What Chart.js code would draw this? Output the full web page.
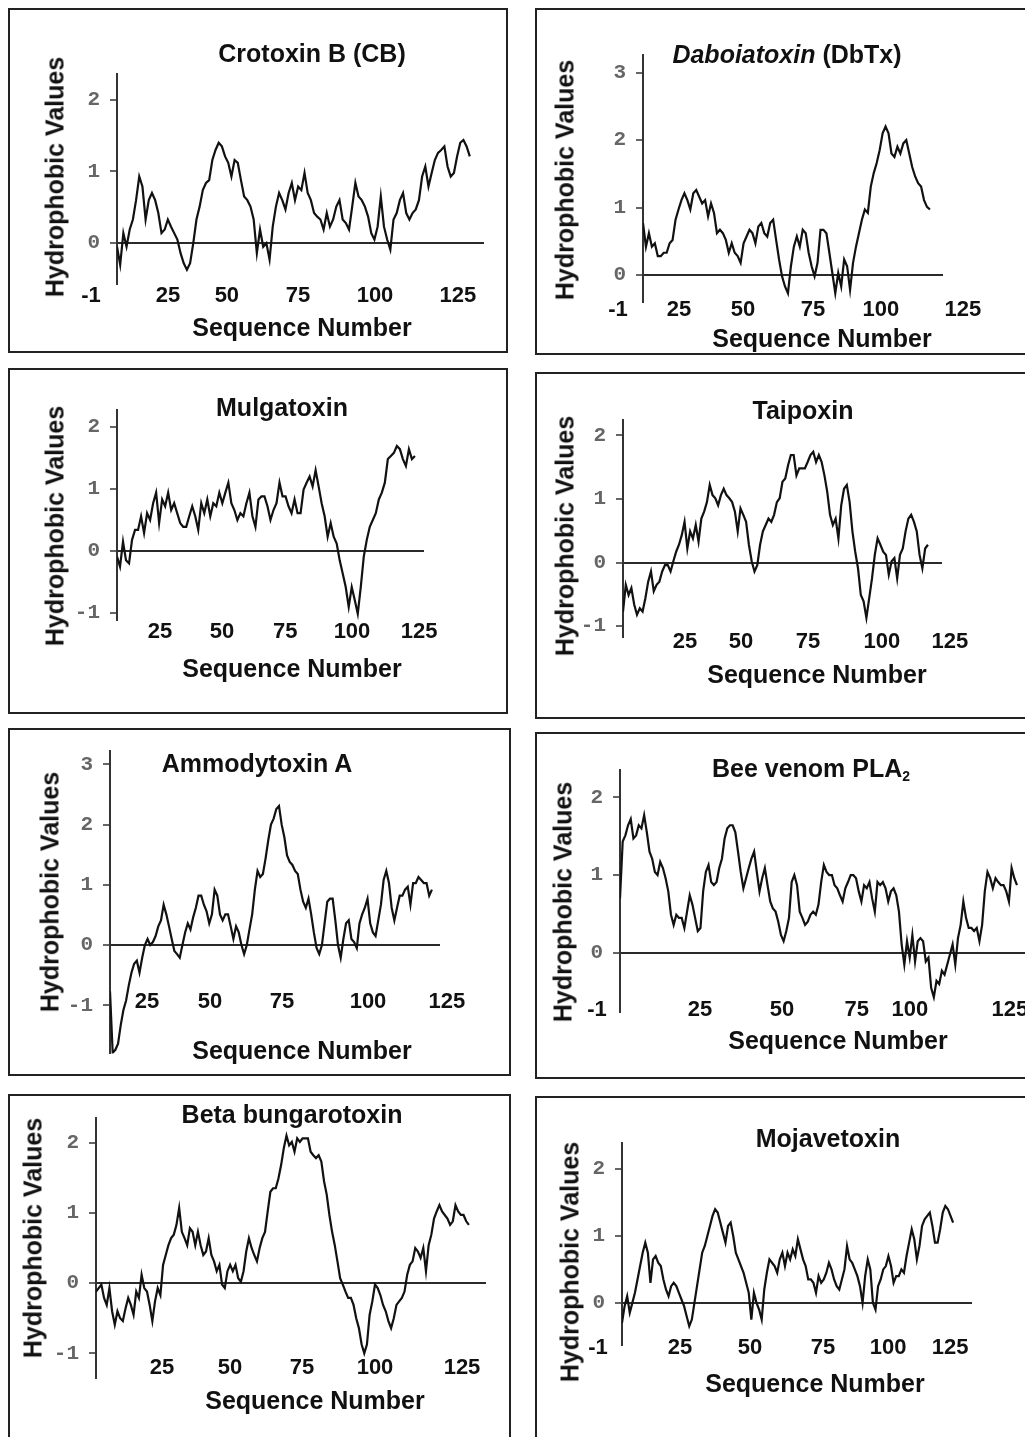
<!DOCTYPE html>
<html>
<head>
<meta charset="utf-8">
<script src="https://cdn.jsdelivr.net/npm/chart.js@4.4.1/dist/chart.umd.min.js"></script>
<style>
  html, body { margin:0; padding:0; background:#fff; }
  body { width:1025px; height:1437px; position:relative; overflow:hidden; }
  .box { position:absolute; border:2px solid #222; box-sizing:border-box; }
  .wrap { position:absolute; }
  .wrap canvas { display:block; }
  .txt { position:absolute; transform:translate(-50%,-50%); white-space:nowrap;
         font-family:'Liberation Sans', Arial, sans-serif; font-weight:bold; font-size:25px;
         line-height:1; color:#111; }
  .txt sub { font-size:14px; vertical-align:-4px; line-height:0; }
  .ytitle { transform:translate(-50%,-50%) rotate(-90deg); }
</style>
</head>
<body>
<script>
// tick labels
var seqLabels = ['25', '50', '75', '100', '125']
var seqLabelsMinus = ['-1', '25', '50', '75', '100', '125']

// where each x label sits, in sequence numbers
var crotoxinBTicks = [-1.55, 25, 45.3, 69.8, 96.4, 125]
var daboiatoxinTicks = [3.5, 25, 47.5, 72.2, 96.1, 125]
var mulgatoxinTicks = [25.1, 49, 73.4, 99.2, 125.1]
var taipoxinTicks = [24.9, 46, 71.3, 99.2, 124.9]
var ammodytoxinTicks = [25, 46, 70, 98.7, 125]
var beeVenomTicks = [-8.2, 25, 51.5, 75.6, 92.7, 125]
var betaBungTicks = [25, 47.7, 71.7, 96, 125]
var mojaveTicks = [-5.4, 25, 50.9, 77.9, 102, 125]

// hydrophobic values read along each profile
var crotoxinB = [-0.05,-0.3,0.14,-0.05,0.19,0.33,0.6,0.93,0.79,0.33,0.6,0.7,0.6,0.42,0.14,0.19,0.33,0.23,0.14,0.05,
  -0.14,-0.28,-0.37,-0.28,0,0.33,0.51,0.74,0.84,0.88,1.16,1.3,1.4,1.35,1.21,1.12,0.93,1.16,1.12,0.88,
  0.65,0.6,0.51,0.33,-0.14,0.19,-0.05,0,-0.23,0.23,0.51,0.7,0.6,0.47,0.7,0.84,0.6,0.79,0.74,0.98,
  0.7,0.6,0.42,0.37,0.33,0.19,0.42,0.23,0.33,0.51,0.6,0.33,0.28,0.19,0.51,0.84,0.65,0.6,0.51,0.37,
  0.14,0.05,0.23,0.65,0.23,0.05,-0.09,0.33,0.42,0.6,0.7,0.42,0.33,0.42,0.47,0.6,0.93,1.07,0.79,0.98,
  1.16,1.26,1.3,1.35,1.07,0.93,0.98,1.21,1.4,1.44,1.35,1.21]

var daboiatoxin = [0.77,0.42,0.62,0.42,0.47,0.28,0.28,0.33,0.33,0.47,0.52,0.82,0.97,1.11,1.21,1.11,0.97,1.21,1.26,1.16,
  1.06,1.11,0.87,1.06,0.92,0.62,0.67,0.62,0.52,0.33,0.47,0.33,0.28,0.18,0.47,0.57,0.67,0.62,0.47,0.72,
  0.77,0.62,0.57,0.77,0.82,0.52,0.23,-0.02,-0.17,-0.27,0.13,0.42,0.57,0.42,0.67,0.62,0.33,0.13,-0.02,0.18,
  0.67,0.67,0.62,0.33,0.03,-0.27,0.03,-0.17,0.23,0.13,-0.22,0.18,0.42,0.62,0.82,0.97,0.92,1.31,1.51,1.66,
  1.85,2.1,2.2,2.1,1.8,1.75,1.9,1.8,1.95,2.0,1.8,1.6,1.46,1.36,1.31,1.11,1.01,0.97]

var mulgatoxin = [-0.09,-0.25,0.15,-0.15,-0.2,0.18,0.34,0.34,0.56,0.29,0.61,0.5,0.77,0.94,0.45,0.83,0.72,0.94,0.66,0.77,
  0.61,0.45,0.39,0.39,0.56,0.72,0.56,0.34,0.77,0.61,0.83,0.56,0.77,0.72,0.94,0.77,0.94,1.1,0.77,0.66,
  0.5,0.61,0.56,0.77,0.94,0.56,0.39,0.83,0.88,0.88,0.72,0.5,0.66,0.77,1.1,0.88,0.88,0.72,0.61,0.83,
  0.61,0.61,0.99,1.1,1.2,1.04,1.3,1.04,0.77,0.56,0.23,0.45,0.23,0.12,-0.15,-0.36,-0.58,-0.9,-0.58,-0.79,
  -1.01,-0.58,-0.09,0.18,0.39,0.5,0.61,0.83,0.94,1.1,1.48,1.53,1.58,1.69,1.64,1.48,1.37,1.64,1.48,1.53]

var taipoxin = [-0.77,-0.35,-0.51,-0.4,-0.66,-0.82,-0.72,-0.77,-0.56,-0.3,-0.14,-0.45,-0.35,-0.3,-0.14,-0.04,-0.04,-0.14,0.02,0.17,
  0.28,0.43,0.64,0.22,0.49,0.38,0.59,0.33,0.69,0.8,0.95,1.22,1.06,1.01,0.9,1.06,1.16,1.06,1.01,0.95,
  0.8,0.49,0.85,0.75,0.64,0.28,0.02,-0.14,-0.04,0.28,0.49,0.59,0.69,0.64,0.75,0.95,1.01,1.27,1.32,1.53,
  1.69,1.69,1.37,1.48,1.48,1.48,1.58,1.69,1.74,1.58,1.69,1.58,1.37,1.11,0.75,0.59,0.69,0.38,0.9,1.16,
  1.22,0.95,0.49,0.17,-0.09,-0.51,-0.61,-0.87,-0.56,-0.25,0.12,0.38,0.28,0.17,0.12,-0.19,0.02,0.07,-0.25,0.12,
  0.22,0.49,0.69,0.75,0.64,0.49,0.12,-0.09,0.22,0.28]

var ammodytoxinA = [-0.77,-1.79,-1.74,-1.64,-1.33,-1.08,-0.92,-0.67,-0.46,-0.31,-0.26,-0.46,-0.21,0,0.1,0,0.05,0.15,0.31,0.41,
  0.67,0.51,0.31,0.1,-0.1,-0.15,-0.21,0,0.21,0.36,0.26,0.46,0.62,0.82,0.82,0.67,0.56,0.36,0.51,0.92,
  0.82,0.51,0.41,0.51,0.51,0.31,0.1,0.31,0.21,0,-0.15,0,0.26,0.51,0.92,1.23,1.13,1.18,1.44,1.74,
  2.0,2.1,2.26,2.31,2.0,1.79,1.49,1.38,1.33,1.23,1.18,0.92,0.72,0.62,0.77,0.51,0.21,-0.05,-0.15,0,
  0.36,0.72,0.77,0.77,0.41,0,-0.21,0.1,0.36,0.41,0.1,0.05,-0.05,0.36,0.51,0.62,0.77,0.36,0.21,0.15,
  0.41,0.67,1.08,1.23,1.03,0.62,0.41,0.62,0.82,0.82,0.92,0.97,0.67,1.03,1.03,1.13,1.08,1.03,1.03,0.82,0.92]

var beeVenomPLA2 = [0.7,1.43,1.51,1.64,1.72,1.47,1.51,1.64,1.6,1.77,1.55,1.3,1.21,1.04,1.0,1.17,1.09,0.96,0.79,0.49,
  0.36,0.49,0.45,0.45,0.32,0.53,0.74,0.62,0.45,0.28,0.32,0.79,1.04,1.13,0.91,0.87,0.91,1.09,1.21,1.47,
  1.6,1.64,1.64,1.55,1.3,1.04,0.83,0.96,1.09,1.21,1.3,1.04,0.79,0.96,1.09,0.87,0.66,0.57,0.53,0.4,
  0.23,0.15,0.28,0.45,0.91,1.0,0.87,0.53,0.45,0.36,0.4,0.49,0.53,0.49,0.62,0.91,1.13,1.04,1.0,1.0,
  0.87,0.83,0.74,0.66,0.83,0.91,1.0,1.0,0.96,0.79,0.66,0.87,0.83,0.91,0.7,0.53,0.91,0.87,0.91,0.83,
  0.66,0.79,0.83,0.74,0.53,0.11,-0.15,0.15,-0.06,0.23,-0.11,0.15,0.19,0.15,-0.11,-0.06,-0.45,-0.57,-0.36,-0.4,
  -0.23,-0.28,-0.15,-0.02,0.11,-0.15,0.19,0.36,0.66,0.45,0.32,0.32,0.28,0.32,0.15,0.36,0.79,1.04,0.96,0.83,
  0.96,0.91,0.87,0.87,0.79,0.66,1.09,0.96,0.87]

var betaBungarotoxin = [-0.12,-0.07,-0.02,-0.21,-0.31,-0.07,-0.4,-0.59,-0.4,-0.5,-0.54,-0.36,-0.21,-0.31,-0.45,-0.12,-0.21,0.12,-0.07,-0.12,
  -0.31,-0.54,-0.26,-0.07,-0.17,0.26,0.4,0.54,0.64,0.69,0.83,1.07,0.73,0.64,0.54,0.78,0.73,0.54,0.73,0.54,
  0.4,0.45,0.64,0.4,0.31,0.17,0.26,-0.02,-0.07,0.17,0.26,0.17,0.26,0.07,0.02,0.17,0.45,0.64,0.5,0.4,
  0.31,0.5,0.64,0.73,1.02,1.3,1.35,1.35,1.49,1.68,1.92,2.1,1.96,2.01,1.87,2.06,2.01,2.06,2.06,2.06,
  1.87,1.82,1.78,1.82,1.73,1.45,1.26,0.97,0.73,0.54,0.31,0.07,-0.02,-0.12,-0.21,-0.21,-0.31,-0.5,-0.64,-0.87,
  -1.0,-0.87,-0.45,-0.26,-0.02,-0.07,-0.17,-0.31,-0.4,-0.54,-0.64,-0.5,-0.31,-0.26,-0.21,-0.12,0.12,0.26,0.31,0.5,
  0.45,0.36,0.5,0.17,0.54,0.69,0.92,1.02,1.11,1.02,0.97,0.92,0.83,0.88,1.11,1.02,0.97,0.97,0.88,0.83]

var mojavetoxin = [-0.3,-0.05,0.1,-0.15,0,0.15,0.35,0.55,0.75,0.9,0.75,0.3,0.65,0.7,0.6,0.55,0.35,0.2,0.1,0.25,
  0.3,0.25,0.15,0.05,-0.05,-0.2,-0.35,-0.25,0,0.25,0.5,0.75,0.85,1.0,1.15,1.3,1.4,1.35,1.2,1.05,
  0.9,1.15,1.2,1.0,0.75,0.65,0.55,0.45,0.3,0.15,-0.25,0.15,0,-0.1,-0.25,0.2,0.45,0.65,0.6,0.55,
  0.45,0.65,0.75,0.55,0.75,0.65,0.8,0.7,0.95,0.8,0.65,0.55,0.35,0.35,0.3,0.15,0.4,0.3,0.35,0.45,
  0.6,0.5,0.35,0.25,0.2,0.35,0.5,0.85,0.65,0.6,0.5,0.4,0.25,0,0.4,0.65,0.5,0,-0.1,0.25,
  0.35,0.5,0.55,0.7,0.55,0.3,0.4,0.4,0.5,0.45,0.7,0.9,1.1,0.95,0.65,0.85,1.15,1.25,1.3,1.35,
  1.15,0.9,0.9,1.1,1.35,1.45,1.4,1.3,1.2]

// layout of each panel (page pixels): box, plot frame [axisX, rightX, topY, bottomY]
var panels = [
  { title: 'Crotoxin B (CB)', values: crotoxinB, seq: [7.4, 129.1], box: [8, 8, 500, 345], frame: [117, 484, 74, 284],
    x: [7.4, 134], y: [-0.57, 2.36], yTicks: [0, 1, 2], xTicks: crotoxinBTicks, xLabels: seqLabelsMinus, labelRow: 296,
    titleAt: [312, 53], xTitleAt: [302, 327], yTitleAt: [55, 177] },
  { title: '<i>Daboiatoxin</i> (DbTx)', values: daboiatoxin, seq: [12.3, 113.4], box: [535, 8, 500, 347], frame: [643, 943, 55, 302],
    x: [12.3, 118], y: [-0.4, 3.26], yTicks: [0, 1, 2, 3], xTicks: daboiatoxinTicks, xLabels: seqLabelsMinus, labelRow: 310,
    titleAt: [787, 54], xTitleAt: [822, 338], yTitleAt: [565, 180] },
  { title: 'Mulgatoxin', values: mulgatoxin, seq: [8.5, 123.5], box: [8, 368, 500, 346], frame: [117, 424, 410, 620],
    x: [8.5, 127], y: [-1.11, 2.27], yTicks: [-1, 0, 1, 2], xTicks: mulgatoxinTicks, xLabels: seqLabels, labelRow: 632,
    titleAt: [282, 407], xTitleAt: [292, 668], yTitleAt: [55, 526] },
  { title: 'Taipoxin', values: taipoxin, seq: [1.5, 116.6], box: [535, 372, 500, 347], frame: [623, 942, 420, 637],
    x: [1.5, 121.9], y: [-1.17, 2.24], yTicks: [-1, 0, 1, 2], xTicks: taipoxinTicks, xLabels: seqLabels, labelRow: 642,
    titleAt: [803, 410], xTitleAt: [817, 674], yTitleAt: [565, 536] },
  { title: 'Ammodytoxin A', values: ammodytoxinA, seq: [12.7, 120], box: [8, 728, 503, 348], frame: [110, 440, 743, 1070],
    x: [12.7, 122.7], y: [-1.8, 3.23], yTicks: [-1, 0, 1, 2, 3], xTicks: ammodytoxinTicks, xLabels: seqLabels, labelRow: 1019,
    titleAt: [257, 763], xTitleAt: [302, 1050], yTitleAt: [50, 892] },
  { title: 'Bee venom PLA<sub>2</sub>', values: beeVenomPLA2, seq: [-0.8, 127.3], box: [535, 732, 500, 347], frame: [620, 1030, 770, 1012],
    x: [-0.8, 131.5], y: [-0.76, 2.35], yTicks: [0, 1, 2], xTicks: beeVenomTicks, xLabels: seqLabelsMinus, labelRow: 1010,
    titleAt: [811, 768], xTitleAt: [838, 1040], yTitleAt: [563, 902] },
  { title: 'Beta bungarotoxin', values: betaBungarotoxin, seq: [3, 127.3], box: [8, 1094, 503, 360], frame: [96, 486, 1118, 1378],
    x: [3, 133], y: [-1.35, 2.35], yTicks: [-1, 0, 1, 2], xTicks: betaBungTicks, xLabels: seqLabels, labelRow: 1368,
    titleAt: [292, 1114], xTitleAt: [315, 1400], yTitleAt: [33, 1238] },
  { title: 'Mojavetoxin', values: mojavetoxin, seq: [3.5, 126.1], box: [535, 1096, 500, 360], frame: [622, 972, 1143, 1345],
    x: [3.5, 133.1], y: [-0.63, 2.39], yTicks: [0, 1, 2], xTicks: mojaveTicks, xLabels: seqLabelsMinus, labelRow: 1348,
    titleAt: [828, 1138], xTitleAt: [815, 1383], yTitleAt: [570, 1262] }
]

var FONT = "'Liberation Sans', Arial, sans-serif"

function addText(html, at, cls) {
  var d = document.createElement('div')
  d.className = 'txt' + (cls ? ' ' + cls : '')
  d.innerHTML = html
  d.style.left = at[0] + 'px'
  d.style.top = at[1] + 'px'
  document.body.appendChild(d)
}

panels.forEach(function(p) {
  var L = p.box[0], T = p.box[1], W = p.box[2], H = p.box[3]
  var ax = p.frame[0], rx = p.frame[1], ty = p.frame[2], by = p.frame[3]
  var yW = 50, xH = 2

  var box = document.createElement('div')
  box.className = 'box'
  box.style.cssText = 'left:' + L + 'px;top:' + T + 'px;width:' + W + 'px;height:' + H + 'px'
  document.body.appendChild(box)

  var wrap = document.createElement('div')
  wrap.className = 'wrap'
  wrap.style.cssText = 'left:' + L + 'px;top:' + T + 'px;width:' + W + 'px;height:' + H + 'px'
  var cv = document.createElement('canvas')
  cv.width = W
  cv.height = H
  cv.style.width = W + 'px'
  cv.style.height = H + 'px'
  wrap.appendChild(cv)
  document.body.appendChild(wrap)

  var n = p.values.length
  var pts = p.values.map(function(v, i) {
    return { x: p.seq[0] + i * (p.seq[1] - p.seq[0]) / (n - 1), y: v }
  })

  new Chart(cv, {
    type: 'line',
    data: { datasets: [{ data: pts, borderColor: '#111', borderWidth: 2.2, pointRadius: 0, tension: 0, fill: false }] },
    options: {
      responsive: false,
      animation: false,
      devicePixelRatio: 1,
      layout: { padding: { left: ax - L - yW, top: ty - T, right: W - (rx - L), bottom: H - (by - T) - xH } },
      plugins: { legend: { display: false }, tooltip: { enabled: false }, title: { display: false } },
      scales: {
        x: {
          type: 'linear', min: p.x[0], max: p.x[1],
          afterBuildTicks: function(s) { s.ticks = p.xTicks.map(function(v) { return { value: v } }) },
          afterFit: function(s) { s.height = xH },
          grid: { display: false, drawTicks: false },
          border: { display: false },
          ticks: {
            // mirrored labels are not clipped to the thin scale box; row placed from the frame bottom
            mirror: true,
            autoSkip: false, maxRotation: 0, minRotation: 0,
            padding: by - p.labelRow - 13.2,
            color: '#111',
            font: { family: FONT, weight: 'bold', size: 22 },
            callback: function(v, i) { return p.xLabels[i] }
          }
        },
        y: {
          type: 'linear', min: p.y[0], max: p.y[1],
          afterBuildTicks: function(s) { s.ticks = p.yTicks.map(function(v) { return { value: v } }) },
          afterFit: function(s) { s.width = yW },
          grid: {
            drawOnChartArea: true,
            color: function(c) { return c.tick && c.tick.value === 0 ? '#2a2a2a' : 'rgba(0,0,0,0)' },
            lineWidth: 2,
            drawTicks: true, tickLength: 7, tickColor: '#666', tickWidth: 2
          },
          border: { display: true, color: '#333', width: 2 },
          ticks: {
            padding: 10,
            color: '#666',
            font: { family: "'Liberation Mono', 'DejaVu Sans Mono', monospace", weight: 'bold', size: 21 },
            callback: function(v) { return String(v) }
          }
        }
      }
    }
  })

  addText(p.title, p.titleAt)
  addText('Sequence Number', p.xTitleAt)
  addText('Hydrophobic Values', p.yTitleAt, 'ytitle')
})
</script>
</body>
</html>
